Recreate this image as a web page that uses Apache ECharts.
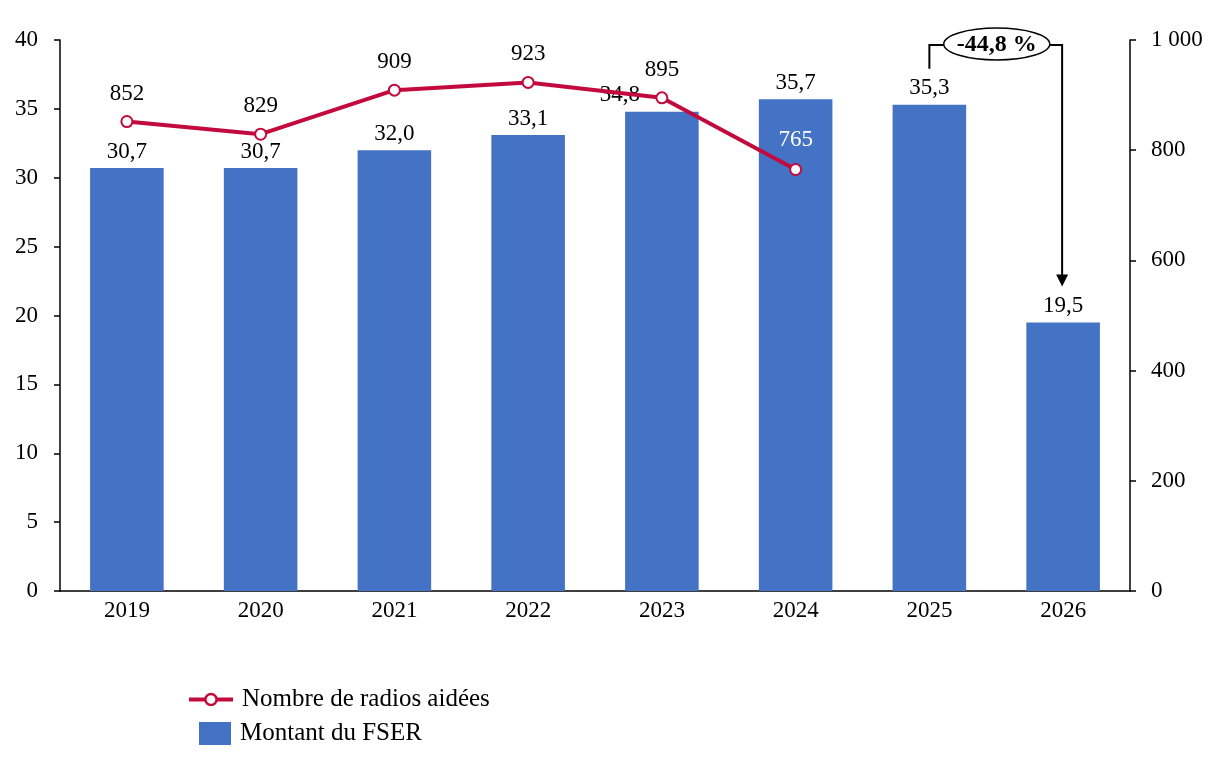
<!DOCTYPE html>
<html>
<head>
<meta charset="utf-8">
<script src="https://cdn.jsdelivr.net/npm/echarts@6/dist/echarts.min.js"></script>
<style>
  html, body { margin: 0; padding: 0; background: #fff; }
  #chart { width: 1222px; height: 760px; }
</style>
</head>
<body>
<div id="chart"></div>
<script>
var years = ['2019', '2020', '2021', '2022', '2023', '2024', '2025', '2026'];
var montant = [30.7, 30.7, 32.0, 33.1, 34.8, 35.7, 35.3, 19.5];
var radios = [852, 829, 909, 923, 895, 765, null, null];
var variation = '-44,8 %';

var font = 'Liberation Serif';
var fs = 23;
var red = '#C30A3E';
var blue = '#4472C4';

function fr(v) {
  return v.toFixed(1).replace('.', ',');
}

var myChart = echarts.init(document.getElementById('chart'));

var option = {
  backgroundColor: '#fff',
  textStyle: { fontFamily: font },
  grid: { left: 60, right: 92, top: 40, bottom: 169 },
  legend: [
    {
      left: 187, top: 687,
      itemWidth: 44, itemHeight: 14, padding: 0,
      textStyle: { fontFamily: font, fontSize: 25, color: '#000', padding: [0, 0, 0, 4] },
      lineStyle: { width: 4 },
      itemStyle: { borderWidth: 2.5 },
      data: ['Nombre de radios aidées']
    },
    {
      left: 199, top: 721,
      itemWidth: 32, itemHeight: 23, padding: 0,
      textStyle: { fontFamily: font, fontSize: 25, color: '#000', padding: [0, 0, 0, 4] },
      icon: 'rect',
      data: ['Montant du FSER']
    }
  ],
  xAxis: {
    type: 'category',
    data: years,
    axisLine: { lineStyle: { color: '#000', width: 1.5 } },
    axisTick: { show: false },
    axisLabel: { color: '#000', fontSize: fs, fontFamily: font, margin: 8 }
  },
  yAxis: [
    {
      type: 'value',
      min: 0, max: 40, interval: 5,
      axisLine: { show: true, lineStyle: { color: '#000', width: 1.5 } },
      axisTick: { show: true, length: 6, lineStyle: { color: '#000', width: 1.5 } },
      splitLine: { show: false },
      axisLabel: { color: '#000', fontSize: fs, fontFamily: font, margin: 22 }
    },
    {
      type: 'value',
      min: 0, max: 1000, interval: 200,
      axisLine: { show: true, lineStyle: { color: '#000', width: 1.5 } },
      axisTick: { show: true, length: 6, lineStyle: { color: '#000', width: 1.5 } },
      splitLine: { show: false },
      axisLabel: {
        color: '#000', fontSize: fs, fontFamily: font, margin: 21,
        formatter: function (v) { return v >= 1000 ? '1 000' : String(v); }
      }
    }
  ],
  series: [
    {
      name: 'Montant du FSER',
      type: 'bar',
      barWidth: '55%',
      itemStyle: { color: blue },
      data: montant.map(function (v, i) {
        var d = { value: v };
        if (i === 4) d.label = { offset: [-42, 0] };
        return d;
      }),
      label: {
        show: true,
        position: 'top',
        distance: 5,
        color: '#000',
        fontSize: fs,
        fontFamily: font,
        formatter: function (p) { return fr(p.value); }
      },
      z: 1
    },
    {
      name: 'Nombre de radios aidées',
      type: 'line',
      yAxisIndex: 1,
      data: radios.map(function (v, i) {
        var d = { value: v };
        if (i === 5) d.label = { color: '#fff', distance: 12 };
        return d;
      }),
      symbol: 'circle',
      symbolSize: 11,
      lineStyle: { color: red, width: 4 },
      itemStyle: { color: '#fff', borderColor: red, borderWidth: 2 },
      label: {
        show: true,
        position: 'top',
        distance: 10,
        color: '#000',
        fontSize: fs,
        fontFamily: font
      },
      z: 3
    }
  ]
};

myChart.setOption(option);

// annotation: bracket from 2025 bar to 2026 bar with the variation
var p25 = myChart.convertToPixel({ gridIndex: 0 }, ['2025', montant[6]]);
var p26 = myChart.convertToPixel({ gridIndex: 0 }, ['2026', montant[7]]);
var topY = myChart.convertToPixel({ yAxisIndex: 0 }, 40) + 5;
var x25 = p25[0], x26 = p26[0] - 1;
var cx = (x25 + x26) / 2 + 1;
myChart.setOption({
  graphic: [
    {
      type: 'polyline',
      shape: { points: [[x25, p25[1] - 36], [x25, topY], [x26, topY], [x26, p26[1] - 46]] },
      style: { stroke: '#000', lineWidth: 2, fill: null },
      z: 10
    },
    {
      type: 'polygon',
      shape: { points: [[x26 - 6, p26[1] - 48], [x26 + 6, p26[1] - 48], [x26, p26[1] - 36]] },
      style: { fill: '#000' },
      z: 10
    },
    {
      type: 'ellipse',
      shape: { cx: cx, cy: topY - 1, rx: 53, ry: 16 },
      style: { fill: '#fff', stroke: '#000', lineWidth: 1.5 },
      z: 11
    },
    {
      type: 'text',
      x: cx, y: topY,
      style: {
        text: variation,
        fontFamily: font, fontSize: 24, fontWeight: 'bold',
        fill: '#000', align: 'center', verticalAlign: 'middle'
      },
      z: 12
    }
  ]
});
</script>
</body>
</html>
